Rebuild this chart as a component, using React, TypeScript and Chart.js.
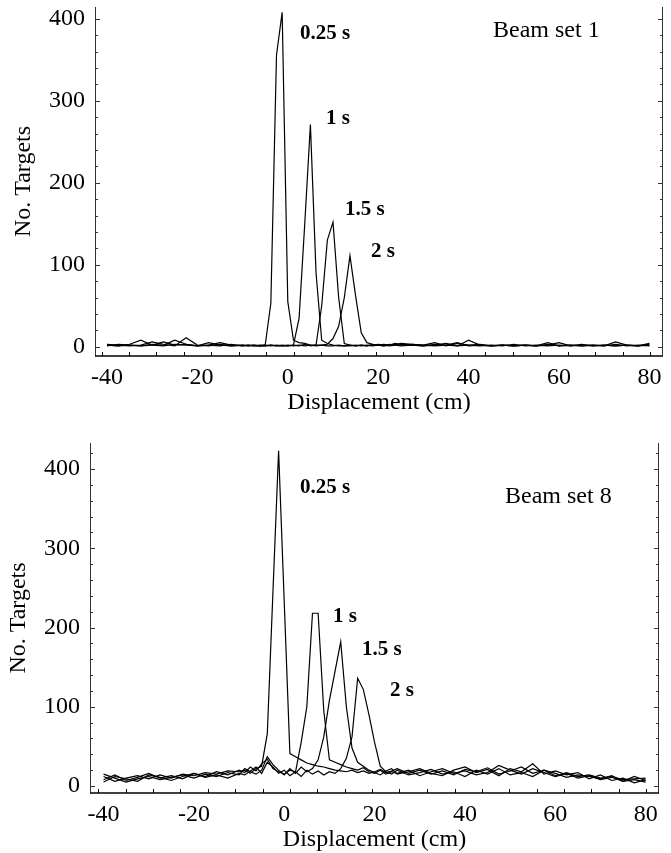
import React, { useEffect, useRef } from "react";
import { Chart, registerables } from "chart.js";

Chart.register(...registerables);

// ---------- data ----------
const DISPLACEMENT = [
  -40, -37.5, -35, -32.5, -30, -27.5, -25, -22.5, -20, -17.5, -15, -12.5, -10,
  -8.75, -7.5, -6.25, -5, -3.75, -2.5, -1.25,
  0, 1.25, 2.5, 3.75, 5, 6.25, 7.5, 8.75, 10, 11.25, 12.5, 13.75, 15, 16.25, 17.5, 18.75, 20, 21.25, 22.5, 23.75, 25,
  27.5, 30, 32.5, 35, 37.5, 40, 42.5, 45, 47.5, 50, 52.5, 55, 57.5, 60, 62.5, 65, 67.5, 70, 72.5, 75, 77.5, 80,
];

const SERIES_NAMES = ["0.25 s", "1 s", "1.5 s", "2 s"];

// Beam set 1
const SET1_T025 = [2, 1, 3, 8, 2, 1, 3, 2, 1, 2, 1, 3, 1, 2, 1, 2, 2, 53, 356, 408, 55, 8, 5, 4, 2, 1, 2, 1, 1, 2, 1, 1, 2, 1, 2, 1, 2, 3, 2, 4, 3, 2, 1, 3, 2, 1, 8, 2, 1, 2, 1, 2, 1, 5, 1, 2, 1, 2, 1, 6, 2, 1, 2];
const SET1_T1 = [3, 2, 1, 2, 6, 3, 1, 11, 2, 1, 3, 1, 2, 1, 2, 1, 1, 2, 1, 1, 1, 2, 35, 150, 271, 90, 8, 4, 2, 1, 1, 2, 1, 2, 1, 2, 3, 2, 1, 2, 4, 3, 2, 5, 1, 4, 2, 1, 2, 1, 3, 1, 2, 1, 2, 1, 3, 1, 2, 1, 2, 1, 4];
const SET1_T15 = [1, 3, 2, 1, 2, 6, 2, 3, 1, 2, 5, 2, 1, 2, 1, 1, 2, 1, 2, 1, 2, 1, 2, 1, 2, 2, 50, 130, 152, 60, 4, 2, 1, 2, 1, 3, 2, 1, 3, 2, 1, 2, 1, 2, 4, 1, 2, 3, 1, 2, 1, 2, 1, 3, 1, 2, 1, 2, 1, 3, 1, 2, 1];
const SET1_T2 = [2, 1, 2, 1, 3, 2, 8, 3, 1, 5, 2, 1, 2, 1, 2, 1, 1, 2, 1, 2, 1, 2, 1, 3, 1, 2, 2, 3, 10, 25, 60, 111, 62, 17, 5, 3, 2, 1, 2, 3, 2, 3, 2, 1, 2, 5, 1, 2, 1, 2, 1, 2, 1, 2, 5, 1, 2, 1, 2, 1, 2, 1, 3];

// Beam set 8
const SET8_T025 = [12, 6, 10, 13, 9, 14, 10, 15, 13, 17, 15, 19, 18, 20, 16, 22, 25, 66, 245, 423, 232, 41, 37, 33, 29, 27, 25, 24, 22, 20, 19, 18, 20, 17, 19, 16, 18, 21, 17, 19, 22, 16, 20, 15, 19, 14, 21, 18, 23, 15, 19, 24, 16, 20, 13, 17, 12, 14, 10, 12, 8, 9, 10];
const SET8_T1 = [8, 14, 7, 11, 16, 10, 13, 9, 16, 12, 18, 14, 20, 17, 24, 19, 28, 34, 22, 18, 15, 20, 18, 55, 100, 218, 218, 95, 33, 30, 27, 24, 22, 20, 23, 18, 16, 20, 15, 18, 16, 20, 13, 18, 22, 16, 19, 14, 17, 26, 20, 15, 22, 17, 12, 16, 10, 13, 8, 11, 6, 12, 7];
const SET8_T15 = [15, 10, 5, 9, 12, 8, 11, 14, 10, 15, 12, 17, 14, 22, 18, 15, 20, 37, 27, 20, 14, 22, 16, 24, 18, 22, 33, 62, 108, 145, 182, 100, 48, 30, 25, 20, 17, 14, 19, 22, 15, 18, 22, 16, 13, 20, 24, 17, 21, 13, 22, 18, 28, 15, 19, 14, 17, 9, 14, 7, 10, 4, 8];
const SET8_T2 = [5, 12, 9, 6, 14, 11, 7, 12, 16, 11, 14, 10, 16, 14, 19, 24, 16, 30, 24, 16, 20, 13, 18, 12, 20, 15, 19, 14, 18, 16, 22, 35, 62, 136, 122, 90, 55, 25, 18, 15, 20, 14, 17, 21, 15, 18, 12, 20, 15, 22, 14, 17, 12, 20, 16, 11, 14, 12, 9, 13, 6, 8, 5];

// ticks
const X_TICK_VALUES = [-40, -20, 0, 20, 40, 60, 80];
const X_MINOR_TICKS = [-41.2, -35.1, -29.1, -23.0, -16.9, -10.9, -4.8, 1.3, 7.3, 13.4, 19.5, 25.5, 31.6, 37.7, 43.7, 49.8, 55.9, 61.9, 68.0, 74.1, 80.1];
const Y_TICK_VALUES = [0, 100, 200, 300, 400];
const Y_MINOR_TICKS = [20, 40, 60, 80, 120, 140, 160, 180, 220, 240, 260, 280, 320, 340, 360, 380, 420];

const X_TITLE = "Displacement (cm)";
const Y_TITLE = "No. Targets";

// ---------- layout ----------
const SERIF = "'Liberation Serif', 'Times New Roman', serif";

type Note = { text: string; x: number; y: number; bold: boolean; size: number };

interface PanelSpec {
  series: number[][];
  top: number;
  height: number;
  xMin: number;
  xMax: number;
  yMin: number;
  yMax: number;
  padding: { left: number; right: number; top: number; bottom: number };
  yAxisWidth: number;
  xAxisHeight: number;
  yTitlePad: number;
  xTitlePad: number;
  notes: Note[];
}

const TOP: PanelSpec = {
  series: [SET1_T025, SET1_T1, SET1_T15, SET1_T2],
  top: 0,
  height: 420,
  xMin: -42.65,
  xMax: 83.0,
  yMin: -11.3,
  yMax: 414.5,
  padding: { left: 0, right: 8, top: 7, bottom: 0 },
  yAxisWidth: 95,
  xAxisHeight: 64,
  yTitlePad: 12,
  xTitlePad: 5,
  notes: [
    { text: SERIES_NAMES[0], x: 300, y: 34, bold: true, size: 21 },
    { text: SERIES_NAMES[1], x: 326, y: 119, bold: true, size: 21 },
    { text: SERIES_NAMES[2], x: 345, y: 210, bold: true, size: 21 },
    { text: SERIES_NAMES[3], x: 371, y: 252, bold: true, size: 21 },
    { text: "Beam set 1", x: 493, y: 31, bold: false, size: 24 },
  ],
};

const BOTTOM: PanelSpec = {
  series: [SET8_T025, SET8_T1, SET8_T15, SET8_T2],
  top: 420,
  height: 433,
  xMin: -43.0,
  xMax: 82.96,
  yMin: -8.8,
  yMax: 432.8,
  padding: { left: 0, right: 12, top: 23, bottom: 0 },
  yAxisWidth: 90,
  xAxisHeight: 60,
  yTitlePad: 7,
  xTitlePad: 1,
  notes: [
    { text: SERIES_NAMES[0], x: 300, y: 68, bold: true, size: 21 },
    { text: SERIES_NAMES[1], x: 333, y: 197, bold: true, size: 21 },
    { text: SERIES_NAMES[2], x: 362, y: 230, bold: true, size: 21 },
    { text: SERIES_NAMES[3], x: 390, y: 271, bold: true, size: 21 },
    { text: "Beam set 8", x: 505, y: 77, bold: false, size: 24 },
  ],
};

function makeFramePlugin(spec: PanelSpec) {
  return {
    id: "frame",
    afterDraw(chart: any) {
      const { ctx, chartArea: a } = chart;
      const xs = chart.scales.x;
      const ys = chart.scales.y;
      ctx.save();
      ctx.strokeStyle = "#333";
      ctx.lineWidth = 1;
      ctx.beginPath();
      ctx.moveTo(a.left + 0.5, a.top);
      ctx.lineTo(a.left + 0.5, a.bottom);
      ctx.moveTo(a.right - 0.5, a.top);
      ctx.lineTo(a.right - 0.5, a.bottom);
      for (const v of Y_TICK_VALUES) {
        const p = Math.round(ys.getPixelForValue(v)) + 0.5;
        ctx.moveTo(a.left, p);
        ctx.lineTo(a.left + 5, p);
        ctx.moveTo(a.right, p);
        ctx.lineTo(a.right - 5, p);
      }
      for (const v of Y_MINOR_TICKS) {
        if (v > ys.max) continue;
        const p = Math.round(ys.getPixelForValue(v)) + 0.5;
        ctx.moveTo(a.left, p);
        ctx.lineTo(a.left + 3, p);
        ctx.moveTo(a.right, p);
        ctx.lineTo(a.right - 3, p);
      }
      ctx.stroke();

      ctx.strokeStyle = "#000";
      ctx.lineWidth = 1.5;
      ctx.beginPath();
      ctx.moveTo(a.left, a.bottom);
      ctx.lineTo(a.right, a.bottom);
      ctx.stroke();

      ctx.lineWidth = 1;
      ctx.beginPath();
      for (const v of X_MINOR_TICKS) {
        const p = Math.round(xs.getPixelForValue(v)) + 0.5;
        ctx.moveTo(p, a.bottom);
        ctx.lineTo(p, a.bottom - 4);
      }
      ctx.stroke();

      ctx.fillStyle = "#000";
      ctx.textBaseline = "middle";
      ctx.textAlign = "left";
      for (const n of spec.notes) {
        ctx.font = `${n.bold ? "bold " : ""}${n.size}px ${SERIF}`;
        ctx.fillText(n.text, n.x, n.y);
      }
      ctx.restore();
    },
  };
}

function Panel({ spec }: { spec: PanelSpec }) {
  const ref = useRef<HTMLCanvasElement>(null);

  useEffect(() => {
    if (!ref.current) return;
    const tickFont = { family: SERIF, size: 24, lineHeight: 1 };
    const chart = new Chart(ref.current, {
      type: "line",
      data: {
        datasets: spec.series.map((vals, i) => ({
          label: SERIES_NAMES[i],
          data: DISPLACEMENT.map((d, j) => ({ x: d, y: vals[j] })),
          borderColor: "#000",
          borderWidth: 1.2,
          pointRadius: 0,
          tension: 0,
          fill: false,
        })),
      },
      options: {
        responsive: false,
        animation: false,
        devicePixelRatio: 1,
        events: [],
        layout: { padding: spec.padding },
        plugins: { legend: { display: false }, tooltip: { enabled: false } },
        scales: {
          x: {
            type: "linear",
            min: spec.xMin,
            max: spec.xMax,
            afterBuildTicks: (s: any) => {
              s.ticks = X_TICK_VALUES.map((v) => ({ value: v }));
            },
            afterFit: (s: any) => {
              s.height = spec.xAxisHeight;
              s.paddingLeft = 0;
              s.paddingRight = 0;
              s.paddingTop = 0;
              s.paddingBottom = 0;
            },
            grid: { display: false, drawTicks: false },
            border: { display: false },
            ticks: {
              color: "#000",
              font: tickFont,
              padding: 10,
              maxRotation: 0,
              autoSkip: false,
              callback: (v: any) => String(v),
            },
            title: {
              display: true,
              text: X_TITLE,
              color: "#000",
              font: tickFont,
              padding: { top: 0, bottom: spec.xTitlePad },
            },
          },
          y: {
            type: "linear",
            min: spec.yMin,
            max: spec.yMax,
            afterBuildTicks: (s: any) => {
              s.ticks = Y_TICK_VALUES.map((v) => ({ value: v }));
            },
            afterFit: (s: any) => {
              s.width = spec.yAxisWidth;
              s.paddingLeft = 0;
              s.paddingRight = 0;
              s.paddingTop = 0;
              s.paddingBottom = 0;
            },
            grid: { display: false, drawTicks: false },
            border: { display: false },
            ticks: {
              color: "#000",
              font: tickFont,
              padding: 10,
              callback: (v: any) => String(v),
            },
            title: {
              display: true,
              text: Y_TITLE,
              color: "#000",
              font: tickFont,
              padding: { top: spec.yTitlePad, bottom: 0 },
            },
          },
        },
      } as any,
      plugins: [makeFramePlugin(spec)],
    });
    return () => chart.destroy();
  }, [spec]);

  return (
    <canvas
      ref={ref}
      width={671}
      height={spec.height}
      style={{ position: "absolute", left: 0, top: spec.top, width: 671, height: spec.height, display: "block" }}
    />
  );
}

export default function App() {
  return (
    <div style={{ position: "absolute", left: 0, top: 0, width: 671, height: 853, background: "#fff" }}>
      <Panel spec={TOP} />
      <Panel spec={BOTTOM} />
    </div>
  );
}
